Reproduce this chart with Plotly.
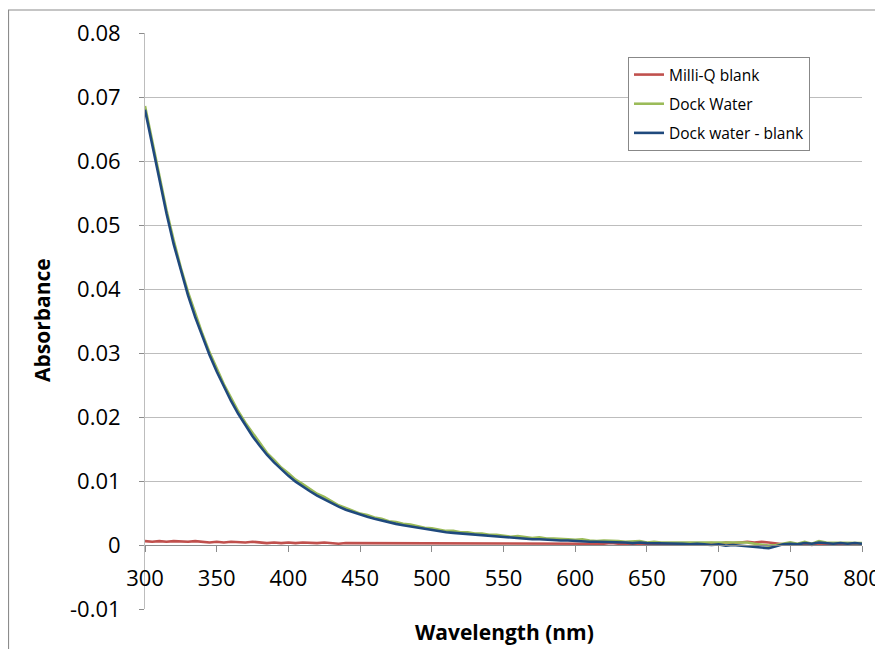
import plotly.graph_objects as go

wavelength = list(range(300, 801, 5))

milliq_blank = [
    0.0006, 0.0005, 0.0006, 0.0005, 0.0006, 0.0005, 0.0005, 0.0006, 0.0005, 0.0004,
    0.0005, 0.0004, 0.0005, 0.0004, 0.0004, 0.0005, 0.0004, 0.0003, 0.0004, 0.0003,
    0.0004, 0.0003, 0.0004, 0.0003, 0.0003, 0.0004, 0.0003, 0.0002, 0.0003, 0.0003,
    0.0002, 0.0003, 0.0002, 0.0003, 0.0002, 0.0003, 0.0002, 0.0003, 0.0002, 0.0002,
    0.0003, 0.0002, 0.0002, 0.0003, 0.0002, 0.0003, 0.0002, 0.0003, 0.0002, 0.0003,
    0.0002, 0.0002, 0.0003, 0.0002, 0.0002, 0.0003, 0.0002, 0.0002, 0.0003, 0.0002,
    0.0002, 0.0003, 0.0002, 0.0001, 0.0002, 0.0003, 0.0002, 0.0001, 0.0002, 0.0002,
    0.0001, 0.0002, 0.0002, 0.0001, 0.0002, 0.0001, 0.0002, 0.0001, 0.0002, 0.0003,
    0.0002, 0.0004, 0.0003, 0.0004, 0.0005, 0.0004, 0.0005, 0.0004, 0.0002, 0.0001,
    0.0002, 0.0001, 0.0002, 0.0000, 0.0002, 0.0001, 0.0002, 0.0001, 0.0002, 0.0001,
    0.0001,
]

dock_water = [
    0.0686, 0.0630, 0.0576, 0.0523, 0.0476, 0.0433, 0.0395, 0.0362, 0.0330, 0.0301,
    0.0276, 0.0251, 0.0230, 0.0209, 0.0191, 0.0175, 0.0159, 0.0144, 0.0133, 0.0121,
    0.0112, 0.0102, 0.0095, 0.0087, 0.0080, 0.0075, 0.0068, 0.0062, 0.0058, 0.0054,
    0.0049, 0.0047, 0.0043, 0.0041, 0.0037, 0.0036, 0.0033, 0.0032, 0.0029, 0.0027,
    0.0026, 0.0024, 0.0022, 0.0022, 0.0020, 0.0020, 0.0018, 0.0018, 0.0016, 0.0016,
    0.0014, 0.0013, 0.0014, 0.0012, 0.0011, 0.0012, 0.0010, 0.0010, 0.0010, 0.0009,
    0.0008, 0.0009, 0.0007, 0.0006, 0.0007, 0.0007, 0.0006, 0.0005, 0.0005, 0.0006,
    0.0004, 0.0005, 0.0004, 0.0004, 0.0004, 0.0003, 0.0003, 0.0003, 0.0003, 0.0003,
    0.0003, 0.0003, 0.0003, 0.0003, 0.0004, 0.0002, 0.0001, -0.0001, 0.0000, 0.0002,
    0.0004, 0.0002, 0.0005, 0.0002, 0.0006, 0.0004, 0.0004, 0.0004, 0.0004, 0.0004,
    0.0003,
]

dock_minus_blank = [
    0.0680, 0.0625, 0.0570, 0.0518, 0.0470, 0.0428, 0.0390, 0.0356, 0.0325, 0.0297,
    0.0271, 0.0247, 0.0225, 0.0205, 0.0187, 0.0170, 0.0155, 0.0141, 0.0129, 0.0118,
    0.0108, 0.0099, 0.0091, 0.0084, 0.0077, 0.0071, 0.0065, 0.0060, 0.0055, 0.0051,
    0.0047, 0.0044, 0.0041, 0.0038, 0.0035, 0.0033, 0.0031, 0.0029, 0.0027, 0.0025,
    0.0023, 0.0022, 0.0020, 0.0019, 0.0018, 0.0017, 0.0016, 0.0015, 0.0014, 0.0013,
    0.0012, 0.0011, 0.0011, 0.0010, 0.0009, 0.0009, 0.0008, 0.0008, 0.0007, 0.0007,
    0.0006, 0.0006, 0.0005, 0.0005, 0.0005, 0.0004, 0.0004, 0.0004, 0.0003, 0.0004,
    0.0003, 0.0003, 0.0002, 0.0003, 0.0002, 0.0002, 0.0001, 0.0002, 0.0001, 0.0000,
    0.0001, -0.0001, 0.0000, -0.0001, -0.0001, -0.0002, -0.0004, -0.0005, -0.0002, 0.0001,
    0.0002, 0.0001, 0.0003, 0.0002, 0.0004, 0.0003, 0.0002, 0.0003, 0.0002, 0.0003,
    0.0002,
]

y_ticks = [-0.01, 0, 0.01, 0.02, 0.03, 0.04, 0.05, 0.06, 0.07, 0.08]
y_tick_text = ["-0.01", "0", "0.01", "0.02", "0.03", "0.04", "0.05", "0.06", "0.07", "0.08"]
x_ticks = [300, 350, 400, 450, 500, 550, 600, 650, 700, 750, 800]

FONT = "Open Sans"
series = [
    ("Milli-Q blank", milliq_blank, "#C0504D"),
    ("Dock Water", dock_water, "#9BBB59"),
    ("Dock water - blank", dock_minus_blank, "#1F497D"),
]

fig = go.Figure()
for i, (name, vals, color) in enumerate(series):
    fig.add_trace(go.Scatter(
        x=wavelength, y=vals, mode="lines", name=name,
        line=dict(color=color, width=2.6), legendgroup=str(i),
    ))

# page body has an 8px margin: figure occupies page pixels 8..883 x 8..649
OFF = 8
W, H = 883 - OFF, 649 - OFF
L, R, T, B = 137, 21, 25, 40
pw, ph = W - L - R, H - T - B

def px(x):  # page pixel -> paper x
    return (x - OFF - L) / pw

def py(y):  # page pixel -> paper y
    return (H - B - (y - OFF)) / ph

fig.update_layout(
    width=W, height=H,
    margin=dict(l=L, r=R, t=T, b=B, autoexpand=False),
    paper_bgcolor="white", plot_bgcolor="white",
    font=dict(family=FONT, color="#000000"),
    showlegend=True,
    legend=dict(
        x=px(628), y=py(57), xanchor="left", yanchor="top",
        bordercolor="#888888", borderwidth=1, bgcolor="white",
        font=dict(family=FONT, size=15.5, color="#000000"),
        traceorder="grouped", tracegroupgap=6,
    ),
    xaxis=dict(
        range=[300, 800], tickvals=x_ticks, showgrid=False, zeroline=False,
        showline=True, linecolor="#8C8C8C", linewidth=1,
        ticks="outside", ticklen=6, tickcolor="#8C8C8C",
        anchor="free", position=(0 - (-0.01)) / 0.09, automargin=False,
        tickfont=dict(family=FONT, size=22, color="#000000"),
        ticklabelstandoff=8,
    ),
    yaxis=dict(
        range=[-0.01, 0.08], tickvals=y_ticks, ticktext=y_tick_text,
        showgrid=True, gridcolor="#BDBDBD", gridwidth=1, zeroline=False,
        showline=True, linecolor="#BDBDBD", linewidth=1, automargin=False,
        ticks="outside", ticklen=5, tickcolor="#8C8C8C",
        tickfont=dict(family=FONT, size=22, color="#000000"),
        ticklabelstandoff=14,
    ),
    annotations=[
        dict(text="<b>Absorbance</b>", x=px(42), y=py(320), xref="paper", yref="paper",
             xanchor="center", yanchor="middle",
             textangle=-90, showarrow=False, font=dict(family=FONT, size=21, color="#000000")),
        dict(text="<b>Wavelength (nm)</b>", x=px(504), y=py(632), xref="paper", yref="paper",
             xanchor="center", yanchor="middle",
             showarrow=False, font=dict(family=FONT, size=21, color="#000000")),
    ],
    shapes=[
        dict(type="rect", xref="paper", yref="paper",
             x0=px(8.5), x1=px(900), y0=py(670), y1=py(10),
             line=dict(color="#8C8C8C", width=1.2), layer="below"),
    ],
)

fig.write_html("out.html")
